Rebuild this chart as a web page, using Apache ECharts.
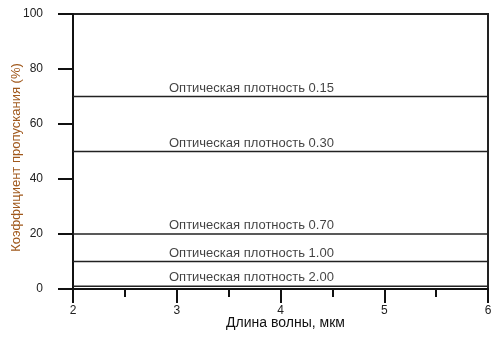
<!DOCTYPE html>
<html>
<head>
<meta charset="utf-8">
<script src="https://cdn.jsdelivr.net/npm/echarts@6/dist/echarts.min.js"></script>
<style>
  html, body { margin: 0; padding: 0; background: #fff; }
  #chart { width: 497px; height: 338px; }
</style>
</head>
<body>
<div id="chart"></div>
<script>
// Optical density of each neutral filter and its transmittance (%)
const opticalDensity = [0.15, 0.30, 0.70, 1.00, 2.00];
const transmittance = [70, 50, 20, 10, 1];
// Wavelength range covered by the filters (µm)
const wavelengthRange = [2, 6];
const xTicks = [2, 3, 4, 5, 6];
const yTicks = [0, 20, 40, 60, 80, 100];

const FONT = 'Liberation Sans, Arial, sans-serif';
const LABEL_X = 3.72; // where the filter captions sit along the wavelength axis

const series = [];
opticalDensity.forEach((od, i) => {
  series.push({
    type: 'line',
    data: wavelengthRange.map(w => [w, transmittance[i]]),
    symbol: 'none',
    silent: true,
    lineStyle: { color: '#222', width: 1.5 },
    z: 3
  });
  series.push({
    type: 'scatter',
    data: [[LABEL_X, transmittance[i]]],
    symbolSize: 0,
    silent: true,
    label: {
      show: true,
      position: 'top',
      distance: 2,
      formatter: 'Оптическая плотность ' + od.toFixed(2),
      color: '#111',
      fontFamily: FONT,
      fontSize: 13
    },
    z: 4
  });
});

const chart = echarts.init(document.getElementById('chart'), null, { renderer: 'canvas' });
chart.setOption({
  animation: false,
  backgroundColor: '#fff',
  grid: {
    left: 73, right: 9, top: 14, bottom: 49,
    containLabel: false,
    outerBoundsMode: 'none',
    show: true, borderColor: '#222', borderWidth: 2, backgroundColor: 'transparent'
  },
  xAxis: {
    type: 'value',
    min: xTicks[0], max: xTicks[xTicks.length - 1], interval: 1,
    name: 'Длина волны, мкм',
    nameLocation: 'middle', nameGap: 27,
    nameMoveOverlap: false,
    nameTextStyle: { color: '#111', fontFamily: FONT, fontSize: 14, padding: [0, 0, 0, 10] },
    axisLine: { show: true, onZero: false, lineStyle: { color: '#111', width: 2 } },
    axisTick: { show: true, inside: false, length: 14, lineStyle: { color: '#111', width: 2 } },
    minorTick: { show: true, splitNumber: 2, length: 8, lineStyle: { color: '#111', width: 2 } },
    axisLabel: { margin: 16, color: '#222', fontFamily: FONT, fontSize: 12 },
    splitLine: { show: false }
  },
  yAxis: {
    type: 'value',
    min: yTicks[0], max: yTicks[yTicks.length - 1], interval: 20,
    name: 'Коэффициент пропускания (%)',
    nameLocation: 'middle', nameGap: 50,
    nameMoveOverlap: false,
    nameTextStyle: { color: '#a0581c', fontFamily: FONT, fontSize: 13, padding: [0, 12, 0, 0] },
    axisLine: { show: true, onZero: false, lineStyle: { color: '#111', width: 2 } },
    axisTick: { show: true, inside: false, length: 15, lineStyle: { color: '#111', width: 2 } },
    axisLabel: { margin: 30, color: '#222', fontFamily: FONT, fontSize: 12 },
    splitLine: { show: false }
  },
  series: series
});
</script>
</body>
</html>
